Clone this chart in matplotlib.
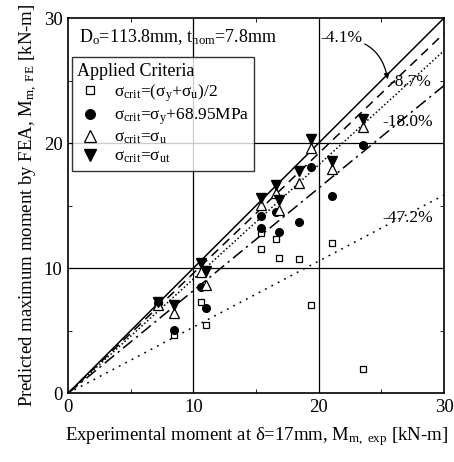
import numpy as np
import matplotlib
matplotlib.use("Agg")
import matplotlib.pyplot as plt

plt.rcParams['font.family'] = ['Liberation Serif', 'DejaVu Serif']
plt.rcParams['mathtext.fontset'] = 'custom'
plt.rcParams['mathtext.rm'] = 'Liberation Serif'
plt.rcParams['mathtext.it'] = 'Liberation Serif:italic'

# experimental moment of each specimen [kN-m]
m_exp = [7.2, 8.45, 10.6, 10.97, 15.43, 15.43, 16.6, 16.87, 18.4, 19.42, 21.06, 23.55]

# predicted moments for each criterion [kN-m]
m_half = [np.nan, 4.64, 7.3, 5.44, 12.77, 11.52, 12.3, 10.77, 10.72, 7.06, 11.97, 1.97]
m_y69 = [7.2, 5.04, 8.45, 6.85, 14.16, 13.24, 14.5, 12.85, 13.66, 18.06, 15.76, 19.84]
m_u = [7.05, 6.45, 9.7, 8.64, 15.04, np.nan, 15.97, 14.64, 16.77, 19.6, 17.95, 21.3]
m_ut = [7.3, 7.04, 10.4, 9.8, 15.57, np.nan, 16.64, 15.44, 17.8, 20.3, 18.6, 21.9]

# fitted slopes (mean error) and line styles
fit_labels = ['-4.1%', '-8.7%', '-18.0%', '-47.2%']
fit_slopes = [0.959, 0.913, 0.820, 0.528]
fit_styles = [(0, (6, 4)), (0, (1, 1.5)), (0, (8, 3, 1.5, 3)), (0, (1.2, 3.5))]

fig = plt.figure(figsize=(4.54, 4.62), dpi=100)
ax = fig.add_axes([0.150, 0.149, 0.828, 0.812])

xs = np.array([0, 30])
ax.plot(xs, xs, color='black', lw=1.1, zorder=2)
for s, ls in zip(fit_slopes, fit_styles):
    ax.plot(xs, s * xs, color='black', lw=1.1, linestyle=ls, zorder=2)

h1, = ax.plot(m_exp, m_half, 's', mfc='white', mec='black', ms=5, mew=0.9, ls='none', zorder=3)
h2, = ax.plot(m_exp, m_y69, 'o', mfc='black', mec='black', ms=5.5, ls='none', zorder=3)
h3, = ax.plot(m_exp, m_u, '^', mfc='white', mec='black', ms=6.5, mew=0.9, ls='none', zorder=3)
h4, = ax.plot(m_exp, m_ut, 'v', mfc='black', mec='black', ms=6.5, ls='none', zorder=4)

ax.set_xlim(0, 30)
ax.set_ylim(0, 30)
ax.set_xticks([0, 10, 20, 30])
ax.set_yticks([0, 10, 20, 30])
ax.set_xticks([5, 15, 25], minor=True)
ax.set_yticks([5, 15, 25], minor=True)
ax.tick_params(which='both', direction='in', top=True, right=True, labelsize=13.5)
ax.tick_params(which='major', length=0, pad=4)
ax.tick_params(which='minor', length=3)
for v in [10, 20]:
    ax.axvline(v, color='black', lw=0.9, zorder=1)
    ax.axhline(v, color='black', lw=0.9, zorder=1)
for sp in ax.spines.values():
    sp.set_linewidth(1.2)

ax.set_xlabel(r'Experimental moment at δ=17mm, M$_{\rm m,\ exp}$ [kN-m]', fontsize=13.5, labelpad=7)
ax.set_ylabel(r'Predicted maximum moment by FEA, M$_{\rm m,\ FE}$ [kN-m]', fontsize=13.5, labelpad=3)

ax.text(0.9, 28.5, r'D$_{\rm o}$=113.8mm, t$_{\rm nom}$=7.8mm', fontsize=13, va='center', ha='left')

leg = ax.legend([h1, h2, h3, h4],
                [r'σ$_{\rm crit}$=(σ$_{\rm y}$+σ$_{\rm u}$)/2',
                 r'σ$_{\rm crit}$=σ$_{\rm y}$+68.95MPa',
                 r'σ$_{\rm crit}$=σ$_{\rm u}$',
                 r'σ$_{\rm crit}$=σ$_{\rm ut}$'],
                title='Applied Criteria', loc='upper left', bbox_to_anchor=(0.01, 0.895),
                fontsize=12.5, title_fontsize=13, frameon=True, fancybox=False,
                edgecolor='black', borderpad=0.3, labelspacing=0.15, handletextpad=0.6,
                handlelength=1.5, borderaxespad=0, markerscale=1.25)
leg._legend_box.align = 'left'
leg.get_frame().set_linewidth(1.0)

ax.annotate(fit_labels[0], xy=(25.5, 25.1), xytext=(20.1, 28.4), fontsize=12.5,
            va='center', ha='left',
            arrowprops=dict(arrowstyle='-|>', color='black', lw=0.9,
                            connectionstyle='arc3,rad=-0.4', shrinkA=0, shrinkB=0,
                            mutation_scale=8))
ax.text(25.6, 24.9, fit_labels[1], fontsize=12.5, va='center', ha='left')
ax.text(25.1, 21.7, fit_labels[2], fontsize=12.5, va='center', ha='left')
ax.text(25.1, 14.0, fit_labels[3], fontsize=12.5, va='center', ha='left')

fig.savefig('out.png', dpi=100)
